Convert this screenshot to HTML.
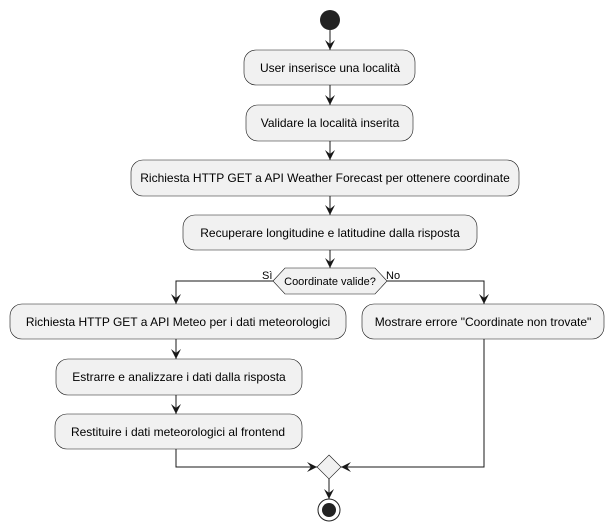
<!DOCTYPE html>
<html><head><meta charset="utf-8"><style>
html,body{margin:0;padding:0;background:#fff;}
svg{display:block;}
text{font-family:"Liberation Sans",sans-serif;font-size:12px;fill:#000;}
</style></head><body>
<svg width="614" height="531" viewBox="0 0 614 531" xmlns="http://www.w3.org/2000/svg">
<defs>
<marker id="a" viewBox="0 0 10 10" refX="10" refY="5" markerWidth="10" markerHeight="10" orient="auto" markerUnits="userSpaceOnUse">
<path d="M0,0 L10,5 L0,10 L4,5 Z" fill="#181818"/>
</marker>
</defs>
<g stroke="#181818" stroke-width="1" fill="none">
<line x1="330" y1="30" x2="330" y2="50" marker-end="url(#a)"/>
<line x1="330" y1="85" x2="330" y2="105" marker-end="url(#a)"/>
<line x1="330" y1="141" x2="330" y2="160" marker-end="url(#a)"/>
<line x1="330" y1="196" x2="330" y2="215" marker-end="url(#a)"/>
<line x1="330" y1="250" x2="330" y2="268" marker-end="url(#a)"/>
<polyline points="273,281 176,281 176,304" marker-end="url(#a)"/>
<polyline points="387,281 484,281 484,304" marker-end="url(#a)"/>
<line x1="176" y1="339" x2="176" y2="359" marker-end="url(#a)"/>
<line x1="176" y1="395" x2="176" y2="414" marker-end="url(#a)"/>
<polyline points="176,449 176,467 317,467" marker-end="url(#a)"/>
<polyline points="484,339 484,467 341,467" marker-end="url(#a)"/>
<line x1="329" y1="479" x2="329" y2="499" marker-end="url(#a)"/>
</g>
<circle cx="330" cy="20" r="10" fill="#222"/>
<g fill="#F1F1F1" stroke="#181818" stroke-width="0.6">
<rect x="244" y="50" width="171" height="35" rx="12"/>
<rect x="246" y="105" width="167" height="36" rx="12"/>
<rect x="131" y="160" width="388" height="36" rx="12"/>
<rect x="183" y="215" width="294" height="35" rx="12"/>
<polygon points="273,281 285,268 375,268 387,281 375,294 285,294"/>
<rect x="10" y="304" width="336" height="35" rx="12"/>
<rect x="362" y="304" width="242" height="35" rx="12"/>
<rect x="56" y="359" width="246" height="36" rx="12"/>
<rect x="55" y="414" width="247" height="35" rx="12"/>
<polygon points="329,455 341,467 329,479 317,467"/>
</g>
<circle cx="329" cy="510" r="11" fill="none" stroke="#222" stroke-width="1"/>
<circle cx="329" cy="510" r="7" fill="#222"/>
<g text-anchor="middle">
<text x="330" y="72">User inserisce una località</text>
<text x="330" y="127">Validare la località inserita</text>
<text x="325" y="182">Richiesta HTTP GET a API Weather Forecast per ottenere coordinate</text>
<text x="330" y="237">Recuperare longitudine e latitudine dalla risposta</text>
<text x="330" y="285" style="font-size:11px">Coordinate valide?</text>
<text x="178" y="326">Richiesta HTTP GET a API Meteo per i dati meteorologici</text>
<text x="483" y="326">Mostrare errore "Coordinate non trovate"</text>
<text x="179" y="381">Estrarre e analizzare i dati dalla risposta</text>
<text x="178" y="436">Restituire i dati meteorologici al frontend</text>
</g>
<text x="262" y="279" style="font-size:11px">Sì</text>
<text x="386" y="279" style="font-size:11px">No</text>
</svg>
</body></html>
